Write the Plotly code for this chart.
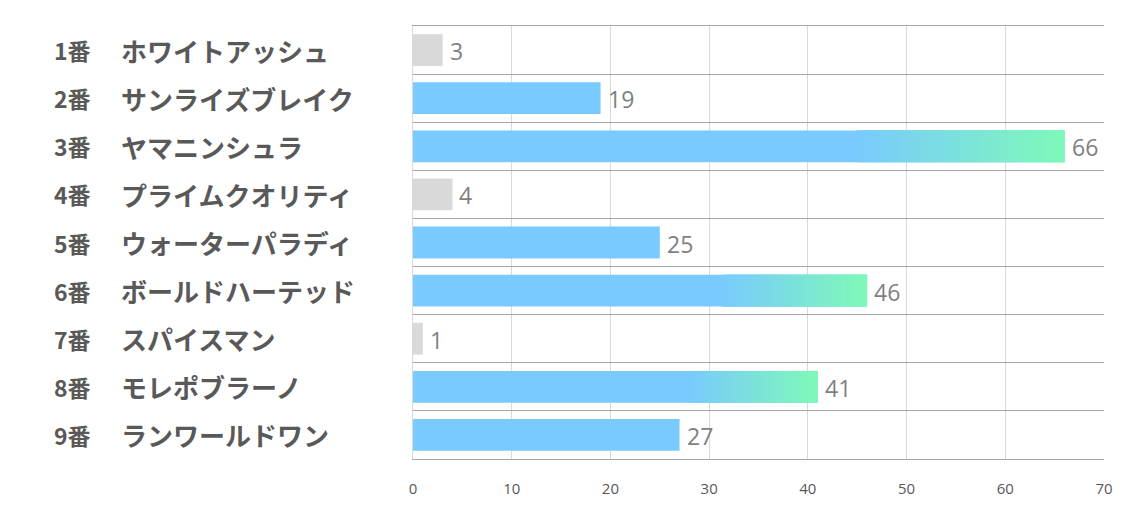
import plotly.graph_objects as go

numbers = ["1番", "2番", "3番", "4番", "5番", "6番", "7番", "8番", "9番"]
names = ["ホワイトアッシュ", "サンライズブレイク", "ヤマニンシュラ", "プライムクオリティ",
         "ウォーターパラディ", "ボールドハーテッド", "スパイスマン", "モレポブラーノ", "ランワールドワン"]
values = [3, 19, 66, 4, 25, 46, 1, 41, 27]
kinds = ["low", "mid", "high", "low", "mid", "high", "low", "high", "mid"]

GRAY = (217, 217, 217)
BLUE = (121, 202, 254)
GREEN = (126, 249, 184)

def rgb(c):
    return "rgb(%d,%d,%d)" % tuple(int(round(v)) for v in c)

cats = [f"{n}　{m}" for n, m in zip(numbers, names)]
base_colors = [rgb(GRAY) if k == "low" else rgb(BLUE) for k in kinds]

W, H = 1134, 510
ML, MR, MT, MB = 413, 30, 26, 45
pw = W - ML - MR

fig = go.Figure()
fig.add_trace(go.Bar(
    y=cats, x=values, orientation="h",
    marker=dict(color=base_colors, line=dict(width=0)),
    hoverinfo="skip",
))

# gradient overlay for top bars: last part of the bar fades blue -> green
N = 60
gy, gx, gb, gc = [], [], [], []
for c, v, k in zip(cats, values, kinds):
    if k != "high":
        continue
    start = 0.68 * v
    step = (v - start) / N
    for i in range(N):
        t = (i + 0.5) / N
        col = tuple(BLUE[j] + (GREEN[j] - BLUE[j]) * t for j in range(3))
        b = start + i * step
        gy.append(c)
        gb.append(b)
        gx.append(min(step * 3, v - b))
        gc.append(rgb(col))
fig.add_trace(go.Bar(
    y=gy, x=gx, base=gb, orientation="h",
    marker=dict(color=gc, line=dict(width=0)),
    hoverinfo="skip", showlegend=False,
))

for c, v in zip(cats, values):
    fig.add_annotation(
        x=v, xref="x", y=c, yref="y", text=str(v), showarrow=False,
        xanchor="left", yanchor="middle", xshift=5, yshift=-1,
        font=dict(family="Open Sans", size=23, color="#7f7f7f"),
    )

for c, n, m in zip(cats, numbers, names):
    fig.add_annotation(
        x=-(ML - 52) / pw, xref="paper", y=c, yref="y",
        text=f"<b>{n}</b>", showarrow=False, xanchor="left", yanchor="middle",
        font=dict(family="Noto Sans CJK JP", size=23, color="#595959"),
    )
    fig.add_annotation(
        x=-(ML - 119) / pw, xref="paper", y=c, yref="y",
        text=f"<b>{m}</b>", showarrow=False, xanchor="left", yanchor="middle",
        font=dict(family="Noto Sans CJK JP", size=26, color="#595959"),
    )

fig.update_layout(
    width=W, height=H, margin=dict(l=ML, r=MR, t=MT, b=MB),
    paper_bgcolor="white", plot_bgcolor="white",
    barmode="overlay", bargap=0.34, showlegend=False,
    xaxis=dict(range=[0, 70], dtick=10, showgrid=True, gridcolor="#d9d9d9", gridwidth=1,
               zeroline=False, showline=True, mirror=True, linecolor="#a6a6a6", linewidth=1,
               ticks="", ticklabelstandoff=16,
               tickfont=dict(family="Open Sans", size=15, color="#595959"), fixedrange=True),
    yaxis=dict(autorange="reversed", showticklabels=False, tickson="boundaries",
               showgrid=True, gridcolor="#a6a6a6", gridwidth=1, ticks="",
               showline=True, linecolor="#d9d9d9", fixedrange=True),
)

fig.write_html("out.html")
